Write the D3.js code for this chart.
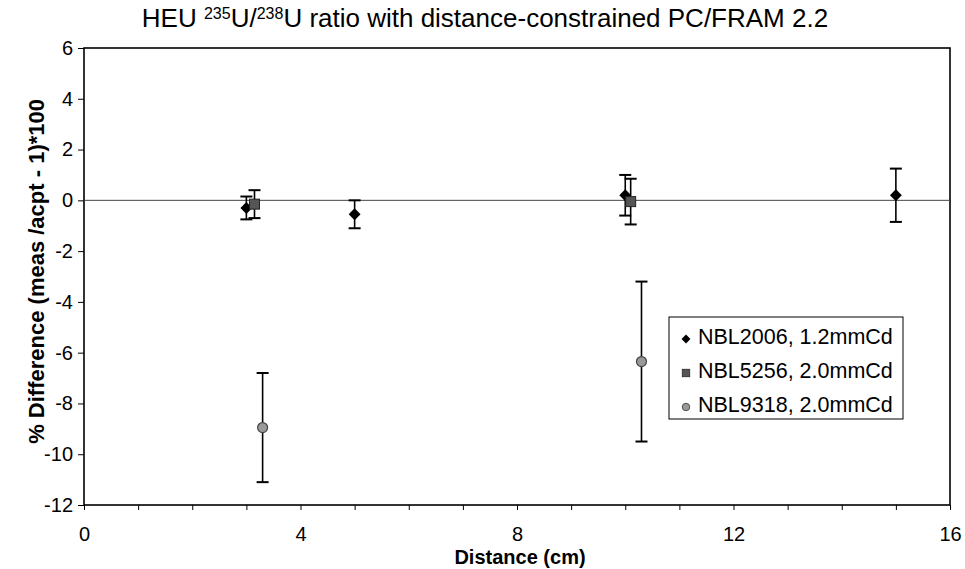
<!DOCTYPE html>
<html>
<head>
<meta charset="utf-8">
<script src="https://cdn.jsdelivr.net/npm/d3@7"></script>
<style>
  body { margin: 0; background: #fff; }
  text { fill: #000; }
</style>
</head>
<body>
<div id="chart"></div>
<script>
// series shown in the legend
const seriesNames = ["NBL2006, 1.2mmCd", "NBL5256, 2.0mmCd", "NBL9318, 2.0mmCd"];
const seriesShapes = ["diamond", "square", "circle"];

// distance (cm), % difference, error half-width
const nbl2006Dist = [3.0, 5.0, 10.0, 15.0];
const nbl2006Diff = [-0.3, -0.55, 0.2, 0.2];
const nbl2006Err = [0.45, 0.55, 0.8, 1.05];

const nbl5256Dist = [3.15, 10.1];
const nbl5256Diff = [-0.15, -0.05];
const nbl5256Err = [0.55, 0.9];

const nbl9318Dist = [3.3, 10.3];
const nbl9318Diff = [-8.95, -6.35];
const nbl9318Err = [2.15, 3.15];

const xTicks = [0, 4, 8, 12, 16];
const yTicks = [6, 4, 2, 0, -2, -4, -6, -8, -10, -12];

function main() {
    const width = 965;
    const height = 569;

    const svg = d3.select("#chart").append("svg")
        .attr("width", width)
        .attr("height", height)
        .style("font-family", "Arial, 'Liberation Sans', sans-serif");

    const x = d3.scaleLinear().domain([0, 16]).range([84, 950]);
    const y = d3.scaleLinear().domain([-12, 6]).range([505, 48]);

    const series = [
        { dist: nbl2006Dist, diff: nbl2006Diff, err: nbl2006Err },
        { dist: nbl5256Dist, diff: nbl5256Diff, err: nbl5256Err },
        { dist: nbl9318Dist, diff: nbl9318Diff, err: nbl9318Err }
    ].map((s, i) => ({
        name: seriesNames[i],
        shape: seriesShapes[i],
        points: s.dist.map((d, j) => ({ x: d, y: s.diff[j], e: s.err[j] }))
    }));

    // frame
    svg.append("rect")
        .attr("x", x(0)).attr("y", y(6))
        .attr("width", x(16) - x(0)).attr("height", y(-12) - y(6))
        .attr("fill", "none").attr("stroke", "#000").attr("stroke-width", 1.6);

    // zero line
    svg.append("line")
        .attr("x1", x(0)).attr("x2", x(16))
        .attr("y1", y(0)).attr("y2", y(0))
        .attr("stroke", "#444").attr("stroke-width", 1);

    // x axis
    const xAxis = svg.append("g")
        .attr("transform", `translate(0,${y(-12)})`)
        .call(d3.axisBottom(x).tickValues(d3.range(0, 17, 1)).tickSize(5)
            .tickFormat(d => xTicks.includes(d) ? d : ""));
    xAxis.select(".domain").remove();
    xAxis.selectAll("line").attr("stroke", "#000");
    xAxis.selectAll("text")
        .attr("y", 22)
        .style("font-size", "20px");

    // y axis
    const yAxis = svg.append("g")
        .attr("transform", `translate(${x(0)},0)`)
        .call(d3.axisLeft(y).tickValues(yTicks).tickSize(6).tickPadding(5)
            .tickFormat(d => String(d)));
    yAxis.select(".domain").remove();
    yAxis.selectAll("line").attr("stroke", "#000");
    yAxis.selectAll("text").style("font-size", "20px");

    // titles
    svg.append("text")
        .attr("x", 485).attr("y", 27)
        .attr("text-anchor", "middle")
        .style("font-size", "26px")
        .html('HEU <tspan dy="-8" font-size="16">235</tspan><tspan dy="8">U/</tspan><tspan dy="-8" font-size="16">238</tspan><tspan dy="8">U ratio with distance-constrained PC/FRAM 2.2</tspan>');

    svg.append("text")
        .attr("x", x(8) + 3).attr("y", 564)
        .attr("text-anchor", "middle")
        .style("font-weight", "bold")
        .style("font-size", "20px")
        .text("Distance (cm)");

    svg.append("text")
        .attr("transform", `translate(44,${y(-2.8)}) rotate(-90)`)
        .attr("text-anchor", "middle")
        .style("font-weight", "bold")
        .style("font-size", "22px")
        .text("% Difference (meas /acpt - 1)*100");

    function drawMarker(g, shape) {
        if (shape === "diamond") {
            g.append("path").attr("d", d3.symbol(d3.symbolDiamond2, 90)())
                .attr("fill", "#000");
        } else if (shape === "square") {
            g.append("rect").attr("x", -5).attr("y", -5).attr("width", 10).attr("height", 10)
                .attr("fill", "#555").attr("stroke", "#222").attr("stroke-width", 1);
        } else {
            g.append("circle").attr("r", 5)
                .attr("fill", "#999").attr("stroke", "#444").attr("stroke-width", 1.2);
        }
    }

    // error bars and markers
    series.forEach(s => {
        const g = svg.append("g");
        s.points.forEach(p => {
            const cx = x(p.x);
            g.append("line")
                .attr("x1", cx).attr("x2", cx)
                .attr("y1", y(p.y + p.e)).attr("y2", y(p.y - p.e))
                .attr("stroke", "#000").attr("stroke-width", 1.6);
            [p.y + p.e, p.y - p.e].forEach(v => {
                g.append("line")
                    .attr("x1", cx - 6).attr("x2", cx + 6)
                    .attr("y1", y(v)).attr("y2", y(v))
                    .attr("stroke", "#000").attr("stroke-width", 2);
            });
            drawMarker(g.append("g").attr("transform", `translate(${cx},${y(p.y)})`), s.shape);
        });
    });

    // legend
    const legend = svg.append("g").attr("transform", "translate(669,317)");
    legend.append("rect")
        .attr("width", 234).attr("height", 102)
        .attr("fill", "#fff").attr("stroke", "#000").attr("stroke-width", 1);
    series.forEach((s, i) => {
        const row = legend.append("g").attr("transform", `translate(0,${19 + i * 34})`);
        drawMarker(row.append("g").attr("transform", "translate(17,3) scale(0.75)"), s.shape);
        row.append("text")
            .attr("x", 29).attr("y", 8)
            .style("font-size", "21.5px")
            .text(s.name);
    });
}
main();
</script>
</body>
</html>
